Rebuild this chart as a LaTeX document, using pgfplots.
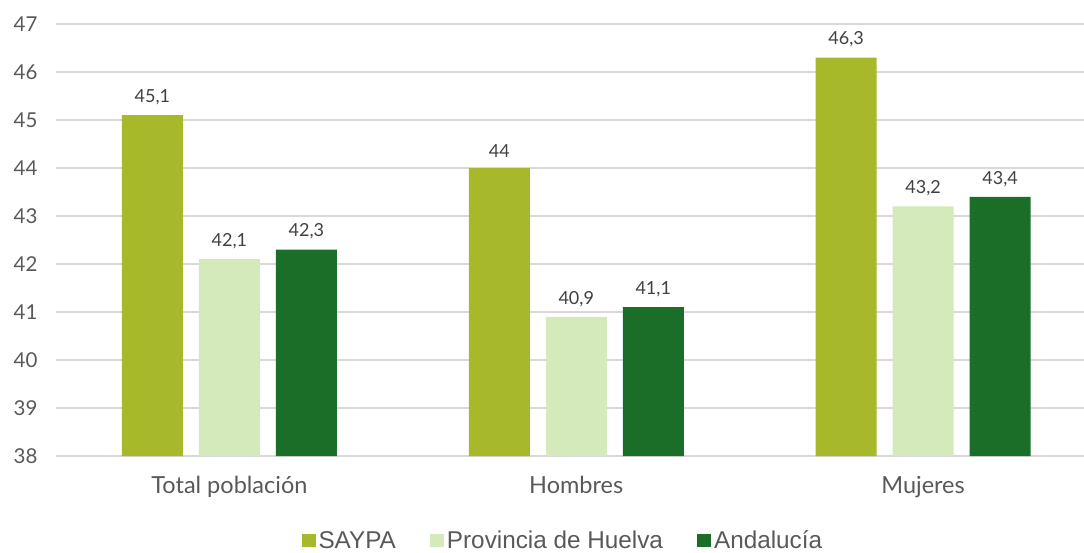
\documentclass[border=0pt]{standalone}
\usepackage{fontspec}
\setmainfont{Lato}
\newfontfamily\arialf{Liberation Sans}
\usepackage{pgfplots}
\pgfplotsset{compat=1.18}
\definecolor{c1}{HTML}{A7B82A}
\definecolor{c2}{HTML}{D4EABB}
\definecolor{c3}{HTML}{1B6E27}
\definecolor{tickc}{HTML}{595959}
\definecolor{labc}{HTML}{404040}
\definecolor{gridc}{HTML}{D9D9D9}
\begin{document}
\begin{tikzpicture}[x=1pt,y=1pt]
\path[use as bounding box] (0,0) rectangle (1084,552);
\begin{axis}[
  at={(56pt,96pt)}, anchor=south west,
  scale only axis, width=1028pt, height=432pt,
  ymin=38, ymax=47, ytick={38,...,47},
  xmin=-0.5, xmax=2.464,
  xtick={0,1,2}, xticklabels={Total población,Hombres,Mujeres},
  ybar=16pt, bar width=61pt,
  axis line style={draw=none},
  major tick length=0pt,
  ymajorgrids, grid style={gridc, line width=1.5pt},
  /pgf/number format/assume math mode=true,
  yticklabel style={font=\fontsize{20.5}{24}\selectfont, text=tickc, xshift=-15pt},
  xticklabel style={font=\fontsize{23.5}{27}\selectfont, text=tickc, yshift=-17pt},
  nodes near coords,
  nodes near coords style={font=\fontsize{18}{21}\selectfont, text=labc, inner sep=0pt, yshift=10pt, anchor=south,
    /pgf/number format/use comma, /pgf/number format/precision=1},
  legend columns=3,
  legend style={at={(0.4935,-0.196)}, anchor=center, draw=none, fill=none,
    font=\arialf\fontsize{24.3}{27}\selectfont, text=tickc,
    /tikz/every even column/.append style={column sep=31pt},
    nodes={inner xsep=3pt, inner ysep=1pt}},
  legend image code/.code={\path[#1,draw=none] (0pt,-6.5pt) rectangle (14pt,6.5pt);},
]
\addplot[fill=c1, draw=none] coordinates {(0,45.1) (1,44) (2,46.3)};
\addplot[fill=c2, draw=none] coordinates {(0,42.1) (1,40.9) (2,43.2)};
\addplot[fill=c3, draw=none] coordinates {(0,42.3) (1,41.1) (2,43.4)};
\legend{SAYPA,Provincia de Huelva,Andalucía}
\end{axis}
\end{tikzpicture}
\end{document}
